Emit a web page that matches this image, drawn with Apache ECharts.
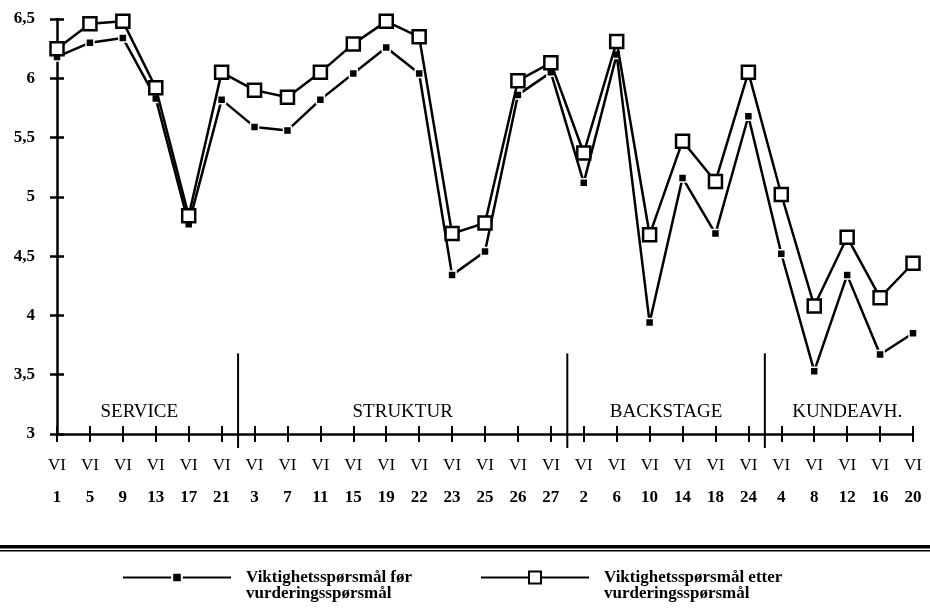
<!DOCTYPE html>
<html><head><meta charset="utf-8">
<script src="https://cdn.jsdelivr.net/npm/echarts@6/dist/echarts.min.js"></script>
<style>html,body{margin:0;padding:0;background:#fff}#c{width:930px;height:608px}</style>
</head><body><div id="c"></div>
<script>
const codes = ['1','5','9','13','17','21','3','7','11','15','19','22','23','25','26','27','2','6','10','14','18','24','4','8','12','16','20'];
const prefix = 'VI';
const groups = ['SERVICE','STRUKTUR','BACKSTAGE','KUNDEAVH.'];
const groupSizes = [6,10,6,5];
const before = [6.18,6.30,6.34,5.83,4.77,5.82,5.59,5.56,5.82,6.04,6.26,6.04,4.34,4.54,5.86,6.05,5.12,6.20,3.94,5.16,4.69,5.68,4.52,3.53,4.34,3.67,3.85];
const after  = [6.25,6.46,6.48,5.92,4.84,6.05,5.90,5.84,6.05,6.29,6.48,6.35,4.69,4.78,5.98,6.13,5.37,6.31,4.68,5.47,5.13,6.05,5.02,4.08,4.66,4.15,4.44];
const seriesNames = ['Viktighetsspørsmål før\nvurderingsspørsmål','Viktighetsspørsmål etter\nvurderingsspørsmål'];
const yMin = 3, yMax = 6.5, yStep = 0.5;

const serif = '"Liberation Serif", "DejaVu Serif", serif';
const chart = echarts.init(document.getElementById('c'), null, {renderer:'canvas'});
const baseX = {
  type:'category', data:codes, boundaryGap:false, position:'bottom'
};
const baseY = {type:'value', min:yMin, max:yMax, interval:yStep, position:'left', splitLine:{show:false}};
const legendCommon = {
  top:553, padding:0, itemWidth:108,
  formatter: n => ' \n' + n,
  textStyle:{fontFamily:serif, fontSize:17, fontWeight:'bold', color:'#000', lineHeight:16, padding:[0,0,0,10]},
  lineStyle:{width:2}
};
chart.setOption({
  animation:false,
  backgroundColor:'#fff',
  grid:{left:57, right:17, top:19, bottom:174},
  legend:[
    Object.assign({left:122, data:[seriesNames[0]]}, legendCommon, {itemHeight:12}),
    Object.assign({left:480, data:[seriesNames[1]]}, legendCommon, {itemHeight:15})
  ],
  xAxis:[
    Object.assign({}, baseX, {
      axisLine:{lineStyle:{color:'#000', width:2.5}},
      axisTick:{show:true, interval:0, length:8, lineStyle:{color:'#000', width:2}},
      axisLabel:{interval:0, margin:14, formatter:v=>'{a|'+prefix+'}\n{b|'+v+'}',
        rich:{a:{fontFamily:serif, fontSize:17, color:'#000', lineHeight:36},
              b:{fontFamily:serif, fontSize:17, fontWeight:'bold', color:'#000', lineHeight:28}}}
    }),
    Object.assign({}, baseX, {
      axisLine:{show:false},
      axisTick:{show:true, inside:true, interval:0, length:8, lineStyle:{color:'#000', width:2}},
      axisLabel:{show:false}
    })
  ],
  yAxis:[
    Object.assign({}, baseY, {
      axisLine:{show:true, lineStyle:{color:'#000', width:2.5}},
      axisTick:{show:true, length:7, lineStyle:{color:'#000', width:2.5}},
      axisLabel:{margin:22, fontFamily:serif, fontSize:17, fontWeight:'bold', color:'#000',
        formatter:v=>String(v).replace('.', ',')}
    }),
    Object.assign({}, baseY, {
      axisLine:{show:false},
      axisTick:{show:true, inside:true, length:7, lineStyle:{color:'#000', width:2.5}},
      axisLabel:{show:false}
    })
  ],
  series:[
    {name:seriesNames[0], type:'line', data:before, xAxisIndex:0, yAxisIndex:0,
     symbol:'rect', symbolSize:8, showAllSymbol:true,
     lineStyle:{color:'#000', width:2.5},
     itemStyle:{color:'#000', borderColor:'#fff', borderWidth:1.5}, z:2},
    {name:seriesNames[1], type:'line', data:after, xAxisIndex:0, yAxisIndex:0,
     symbol:'rect', symbolSize:13, showAllSymbol:true,
     lineStyle:{color:'#000', width:2.5},
     itemStyle:{color:'#fff', borderColor:'#000', borderWidth:2.5}, z:3}
  ]
});

// decorations: group separators, group titles, double rule
const px = i => chart.convertToPixel({xAxisIndex:0}, codes[i]);
const py = v => chart.convertToPixel({yAxisIndex:0}, v);
const g = [];
let start = 0;
const yBase = py(yMin);
const ySepTop = py(3.68);
groups.forEach((name, k) => {
  const end = start + groupSizes[k] - 1;
  g.push({type:'text', style:{text:name, x:(px(start)+px(end))/2, y:yBase-22, align:'center', verticalAlign:'middle',
    font:'19px ' + serif, fill:'#000'}});
  if (k < groups.length - 1) {
    const xs = (px(end) + px(end+1)) / 2;
    g.push({type:'line', shape:{x1:xs, y1:ySepTop, x2:xs, y2:yBase+14}, style:{stroke:'#000', lineWidth:2}});
  }
  start = end + 1;
});
g.push({type:'rect', shape:{x:0, y:545, width:930, height:3.5}, style:{fill:'#000'}});
g.push({type:'rect', shape:{x:0, y:550, width:930, height:1.5}, style:{fill:'#000'}});
chart.setOption({graphic:g});
</script>
</body></html>
